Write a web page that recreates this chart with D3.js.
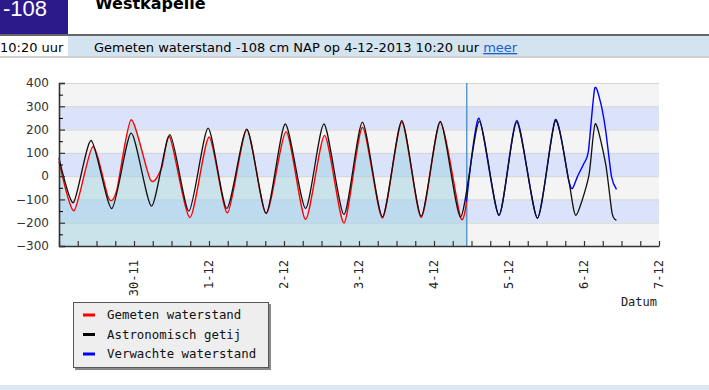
<!DOCTYPE html>
<html>
<head>
<meta charset="utf-8">
<script src="https://cdnjs.cloudflare.com/ajax/libs/d3/7.8.5/d3.min.js"></script>
<style>
body { margin: 0; background: #fff; }
svg { display: block; }
</style>
</head>
<body>
<svg id="view" width="709" height="390"></svg>
<script>
// hours after 29-11-2013 00:00, water level in cm NAP
var measured = [[0,63],[4.8,-149],[10.8,127],[15.9,-96],[18.5,-60],[23.1,242],[29.3,-17],[32.8,34],[35.5,168],
	[41.9,-178],[48.0,168],[53.9,-158],[60.1,201],[66.3,-161],[72.7,191],[78.9,-186],[85.0,175],[91.2,-201],
	[97.1,210],[103.5,-180],[109.7,232],[115.9,-178],[122.0,232],[128.5,-178],[130.4,-110]];
var astronomical = [[0,77],[4.6,-114],[10.3,153],[16.9,-139],[23.1,185],[29.6,-129],[35.5,178],[41.6,-150],
	[47.7,206],[53.7,-139],[60.1,202],[66.3,-160],[72.4,224],[78.9,-139],[84.8,224],[91.2,-165],[97.1,232],
	[103.5,-175],[109.7,238],[115.9,-172],[122.0,235],[128.5,-175],[134.5,235],[140.8,-168],[146.5,232],
	[153.1,-180],[158.8,238],[163.1,-17],[165.4,-168],[169.5,-2],[171.6,225],[174.9,55],[177.0,-160],[178.4,-188]];
var forecast = [[130.4,-110],[134.4,249],[140.8,-168],[146.5,239],[153.1,-180],[158.8,242],[163.1,-17],
	[164.3,-53],[165.9,-2],[168.0,55],[169.4,106],[171.4,375],[173.2,322],[174.9,200],[176.8,-2],[178.4,-57]];
var nowHour = 130.33;
var yTicks = [-300,-200,-100,0,100,200,300,400];
var dayLabels = ['30-11','1-12','2-12','3-12','4-12','5-12','6-12','7-12'];
var legendNames = ['Gemeten waterstand','Astronomisch getij','Verwachte waterstand'];
var legendColors = ['#ff0000','#000000','#0000ff'];

var svg = d3.select('svg#view');
var start = new Date(2013, 10, 29);
function toDate(h) { return new Date(start.getTime() + h * 3600e3); }

// --- header
svg.append('rect').attr('x',0).attr('y',0).attr('width',68).attr('height',34).attr('fill','#2d1a8a');
svg.append('text').attr('x',3).attr('y',16).attr('fill','#fff')
	.style('font','22px "Liberation Sans", Arial, sans-serif').text('-108');
svg.append('text').attr('x',95).attr('y',9).attr('fill','#000')
	.style('font','bold 16px "DejaVu Sans", Verdana, sans-serif').text('Westkapelle');
svg.append('rect').attr('x',0).attr('y',34).attr('width',709).attr('height',2).attr('fill','#666');
svg.append('rect').attr('x',68).attr('y',36).attr('width',641).attr('height',20).attr('fill','#d3e3ef');
svg.append('rect').attr('x',0).attr('y',56).attr('width',709).attr('height',2).attr('fill','#cfcfcf');
svg.append('text').attr('x',0).attr('y',52).attr('fill','#000')
	.style('font','13px "DejaVu Sans", Verdana, sans-serif').text('10:20 uur');
var info = svg.append('text').attr('x',94).attr('y',52).attr('fill','#000')
	.style('font','13px "DejaVu Sans", Verdana, sans-serif');
info.append('tspan').text('Gemeten waterstand -108 cm NAP op 4-12-2013 10:20 uur ');
info.append('tspan').attr('fill','#1a5fd0').style('text-decoration','underline').text('meer');

// bottom strip
svg.append('rect').attr('x',0).attr('y',385).attr('width',709).attr('height',5).attr('fill','#dbe8f3');

// --- chart
var x = d3.scaleTime().domain([toDate(0), toDate(192)]).range([59, 659]);
var y = d3.scaleLinear().domain([-300, 400]).range([246, 83]);

// alternating bands
var bands = d3.range(-300, 400, 100);
svg.append('g').selectAll('rect').data(bands).enter().append('rect')
	.attr('x', 59).attr('width', 600)
	.attr('y', function(d) { return y(d + 100); })
	.attr('height', function(d) { return y(d) - y(d + 100); })
	.attr('fill', function(d) { return (d === -200 || d === 0 || d === 200) ? '#dbe3fa' : '#f4f4f4'; });
svg.append('g').selectAll('line').data(yTicks.slice(1)).enter().append('line')
	.attr('x1', 59).attr('x2', 659)
	.attr('y1', function(d) { return y(d) + 0.5; }).attr('y2', function(d) { return y(d) + 0.5; })
	.attr('stroke', '#d4d4d4');

var px = function(d) { return x(toDate(d[0])); };
var py = function(d) { return y(d[1]); };
var curve = d3.curveCardinal.tension(0.3);

// filled area under measured level
var area = d3.area().x(px).y0(y(-300)).y1(py).curve(curve);
svg.append('path').datum(measured).attr('d', area).attr('fill', 'rgba(160,210,225,0.5)');

// now line
svg.append('line').attr('x1', x(toDate(nowHour)) + 0.5).attr('x2', x(toDate(nowHour)) + 0.5)
	.attr('y1', 83).attr('y2', 246).attr('stroke', '#3b86c0').attr('stroke-width', 1.2);

var line = d3.line().x(px).y(py).curve(curve);
svg.append('path').datum(measured).attr('d', line).attr('fill', 'none').attr('stroke', '#ff0000').attr('stroke-width', 1.4);
svg.append('path').datum(forecast).attr('d', line).attr('fill', 'none').attr('stroke', '#0000ff').attr('stroke-width', 1.4);
svg.append('path').datum(astronomical).attr('d', line).attr('fill', 'none').attr('stroke', '#111').attr('stroke-width', 1.3);

// y axis
var yAxis = svg.append('g').attr('transform', 'translate(59,0)')
	.call(d3.axisLeft(y).tickValues(yTicks).tickSize(-6).tickPadding(10));
svg.append('g').attr('transform', 'translate(59,0)')
	.call(d3.axisLeft(y).tickValues(d3.range(-250, 400, 100)).tickSize(-4).tickFormat(''))
	.select('.domain').remove();
yAxis.selectAll('text').style('font', '12px "DejaVu Sans", Verdana, sans-serif').attr('fill', '#333');

// x axis
var xAxis = svg.append('g').attr('transform', 'translate(0,246)')
	.call(d3.axisBottom(x).ticks(d3.timeHour.every(6)).tickSize(-5).tickSizeOuter(0).tickFormat(''));
[yAxis, xAxis].forEach(function(g) {
	g.select('.domain').attr('stroke', '#333').attr('stroke-width', 1.6);
	g.selectAll('.tick line').attr('stroke', '#333').attr('stroke-width', 1.2);
});

svg.append('g').selectAll('text').data(dayLabels).enter().append('text')
	.attr('transform', function(d, i) { return 'translate(' + x(toDate(24 * (i + 1))) + ',260) rotate(-90)'; })
	.attr('dy', '0.35em').attr('text-anchor', 'end').attr('fill', '#222')
	.style('font', '12px "DejaVu Sans Mono", monospace').text(function(d) { return d; });
svg.append('text').attr('x', 657).attr('y', 306).attr('text-anchor', 'end').attr('fill', '#222')
	.style('font', '12px "DejaVu Sans Mono", monospace').text('Datum');

// legend
var legend = svg.append('g');
legend.append('rect').attr('x', 75).attr('y', 304).attr('width', 196).attr('height', 66).attr('fill', '#888');
legend.append('rect').attr('x', 73.5).attr('y', 302.5).attr('width', 195).attr('height', 65)
	.attr('fill', '#eeeeee').attr('stroke', '#555');
var rows = legend.selectAll('g.row').data(legendNames).enter().append('g')
	.attr('transform', function(d, i) { return 'translate(0,' + (315 + i * 19.5) + ')'; });
rows.append('rect').attr('x', 83).attr('y', -1.5).attr('width', 12).attr('height', 3)
	.attr('fill', function(d, i) { return legendColors[i]; });
rows.append('text').attr('x', 107).attr('dy', '0.35em').attr('fill', '#111')
	.style('font', '12.4px "DejaVu Sans Mono", monospace').text(function(d) { return d; });
</script>
</body>
</html>
